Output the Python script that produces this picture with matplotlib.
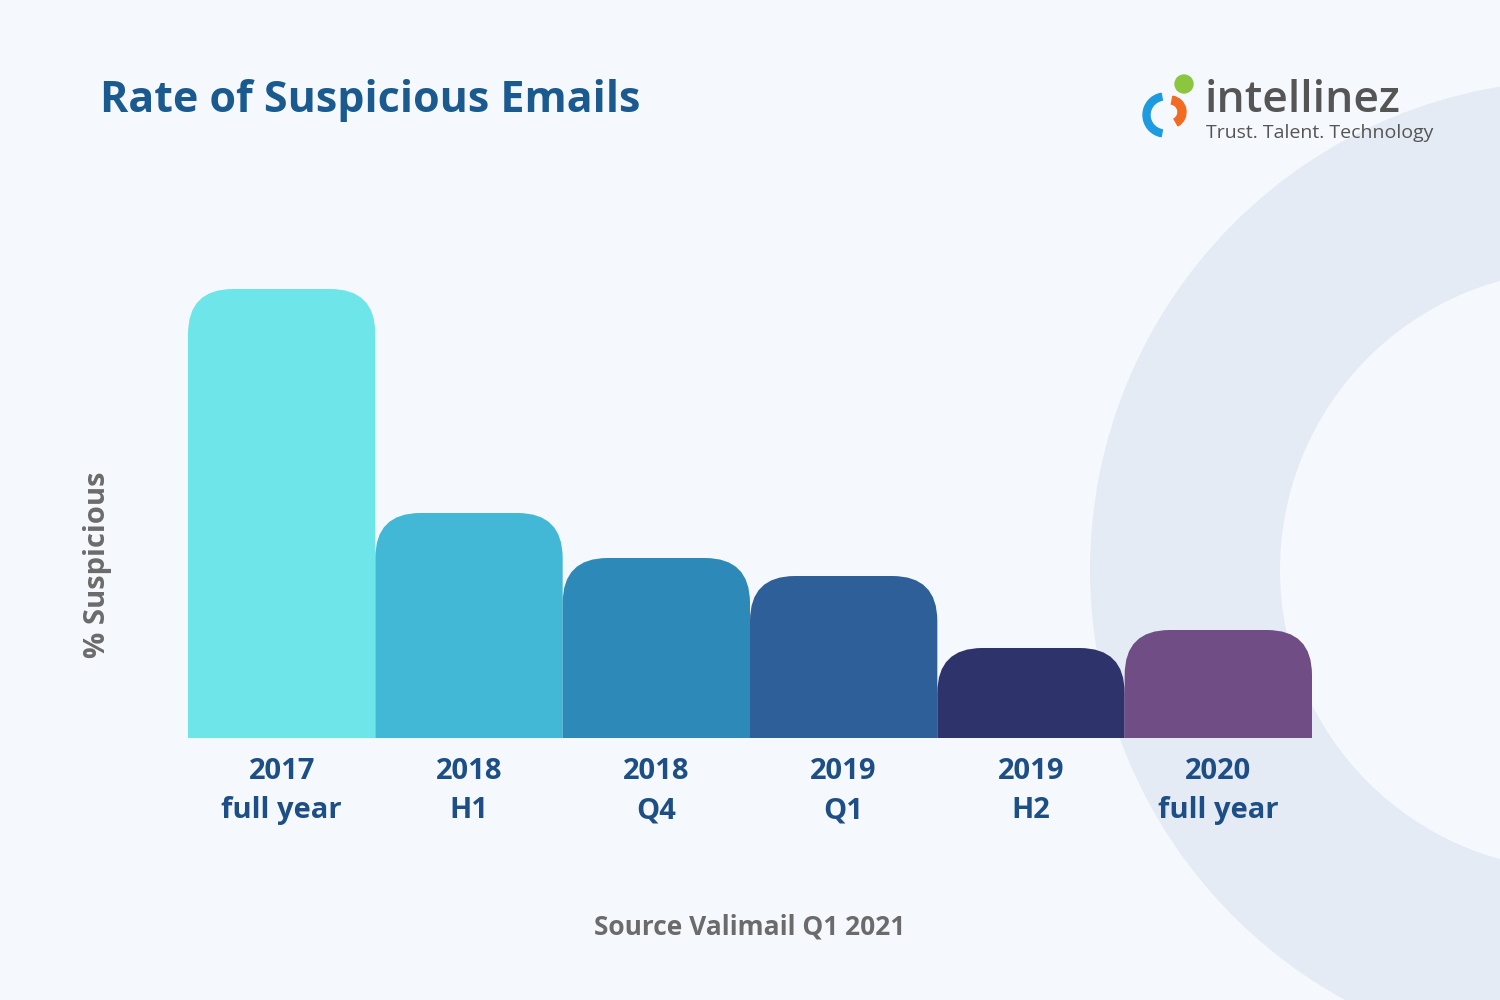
import matplotlib
matplotlib.use("Agg")
import matplotlib.pyplot as plt
from matplotlib.path import Path
from matplotlib.patches import PathPatch, Circle, Wedge

categories = ["2017\nfull year", "2018\nH1", "2018\nQ4", "2019\nQ1", "2019\nH2", "2020\nfull year"]
values = [449, 225, 180, 162, 90, 108]
colors = ["#6ee6e9", "#43b8d6", "#2d89b8", "#2e5f98", "#2f336b", "#714d86"]

BG = "#f5f9fd"
fig = plt.figure(figsize=(15, 10), dpi=100, facecolor=BG)

# decorative ring
bgax = fig.add_axes([0, 0, 1, 1], zorder=0)
bgax.set_xlim(0, 1500); bgax.set_ylim(1000, 0); bgax.axis("off")
bgax.add_patch(Wedge((1580, 570), 490, 0, 360, width=190, facecolor="#e4ebf5", edgecolor="none"))

ax = fig.add_axes([188/1500, 262/1000, 1124/1500, 538/1000], zorder=1)
ax.set_facecolor("none")
ax.set_xlim(-0.5, 5.5)
ax.set_ylim(0, 538)
w = 1.0
rx = 45 / (1124 / 6)
ry = 45
for i, (v, c) in enumerate(zip(values, colors)):
    x0, x1 = i - w/2, i + w/2
    verts = [(x0, 0), (x0, v - ry), (x0, v), (x0 + rx, v), (x1 - rx, v), (x1, v), (x1, v - ry), (x1, 0), (x0, 0)]
    codes = [Path.MOVETO, Path.LINETO, Path.CURVE3, Path.CURVE3, Path.LINETO, Path.CURVE3, Path.CURVE3, Path.LINETO, Path.CLOSEPOLY]
    ax.add_patch(PathPatch(Path(verts, codes), facecolor=c, edgecolor="none"))
ax.set_xticks(range(len(categories)))
ax.set_xticklabels(categories, fontsize=21, fontweight="bold", color="#1d4f86", family="Open Sans", linespacing=1.45)
ax.tick_params(axis="x", length=0, pad=14)
ax.set_yticks([])
for s in ax.spines.values():
    s.set_visible(False)

fig.text(100/1500, 1 - 100/1000, "Rate of Suspicious Emails", fontsize=31, fontweight="bold", color="#1a5a8f", family="Open Sans", va="center")
fig.text(98/1500, 1 - 565/1000, "% Suspicious", fontsize=21, fontweight="bold", color="#6b6b6b", family="Open Sans", rotation=90, va="center", ha="center")
fig.text(750/1500, 1 - 927/1000, "Source Valimail Q1 2021", fontsize=19, fontweight="bold", color="#6b6b6b", family="Open Sans", ha="center", va="center")
fig.text(1205/1500, 1 - 100/1000, "intellinez", fontsize=32, fontweight="semibold", color="#555555", family="Open Sans", va="center")
fig.text(1206/1500, 1 - 133/1000, "Trust. Talent. Technology", fontsize=14, color="#555555", family="Open Sans", va="center")
bgax.add_patch(Circle((1184, 84), 9, color="#8cc63f"))
bgax.add_patch(Wedge((1165, 115), 22, 100, 260, width=7, color="#1e9be0"))
bgax.add_patch(Wedge((1170, 112), 16, 280, 60, width=8, color="#f26b21"))

fig.savefig("out.png", dpi=100, facecolor=BG)
